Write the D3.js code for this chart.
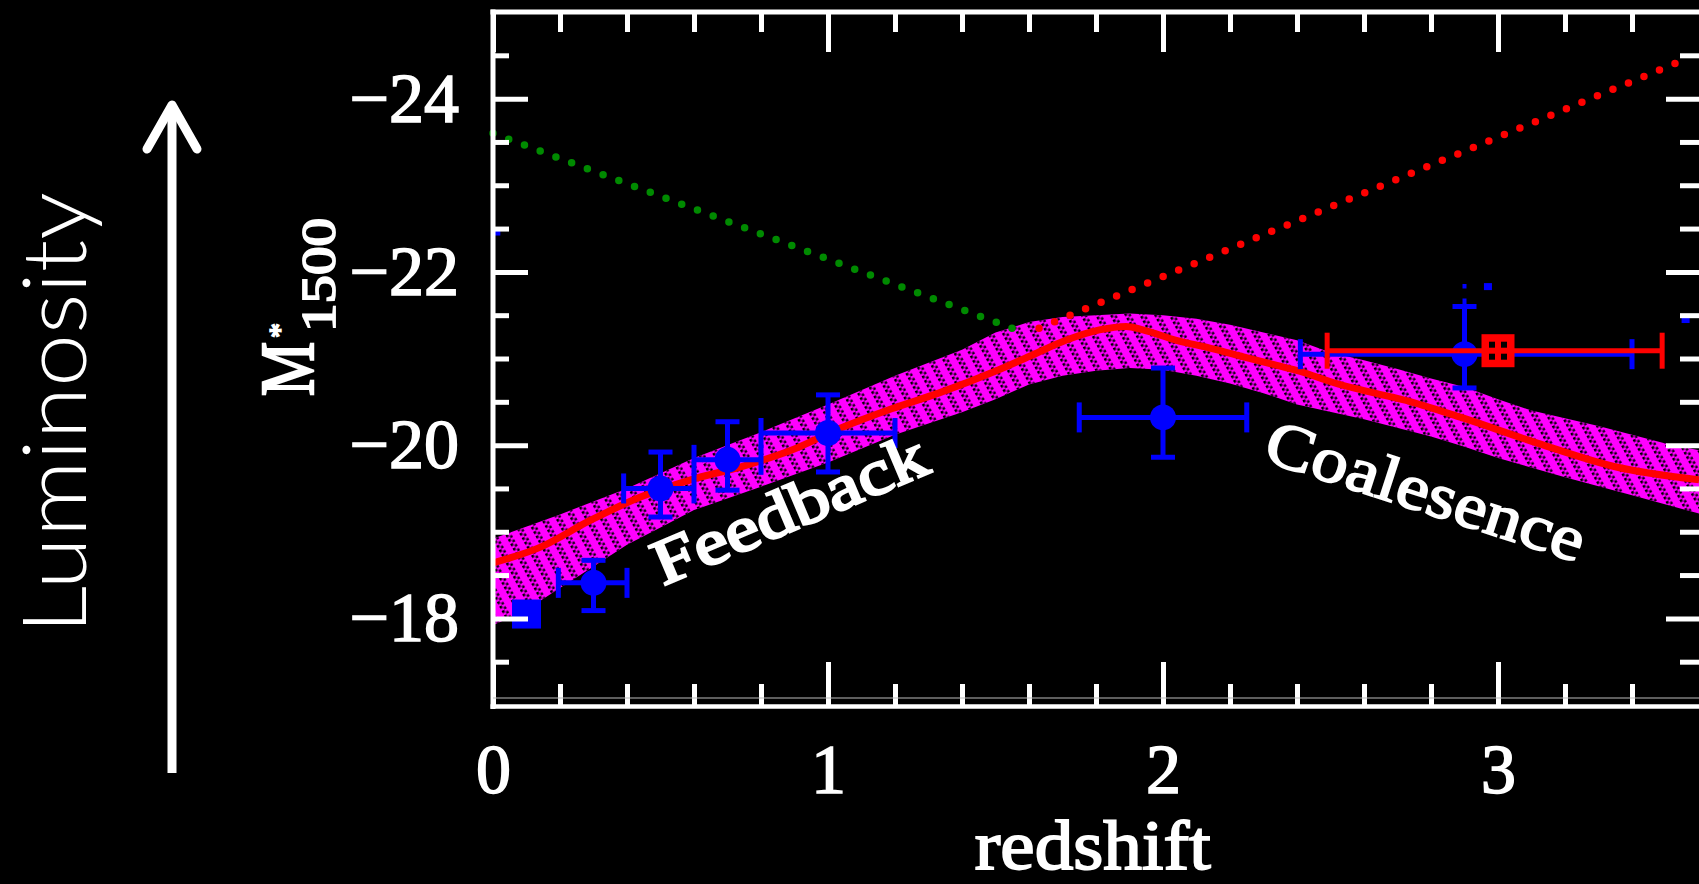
<!DOCTYPE html>
<html>
<head>
<meta charset="utf-8">
<script src="https://cdn.jsdelivr.net/npm/d3@7"></script>
<style>
  html, body { margin: 0; padding: 0; background: #000; overflow: hidden; }
  svg { display: block; }
</style>
</head>
<body>
<svg id="chart" width="1699" height="884"></svg>
<script>
// ---- Model: characteristic UV magnitude M*1500 versus redshift ----
const modelZ = [0, 0.14, 0.29, 0.44, 0.59, 0.74, 0.89, 1.04, 1.19, 1.33, 1.51, 1.61, 1.71, 1.81, 1.89,
                1.94, 2.04, 2.14, 2.24, 2.34, 2.41, 2.51, 2.61, 2.74, 2.89, 3.12, 3.35, 3.6];
const modelM = [-18.64, -18.82, -19.13, -19.40, -19.60, -19.75, -19.94, -20.20, -20.42, -20.60, -20.87,
                -21.04, -21.21, -21.33, -21.37, -21.33, -21.21, -21.12, -21.02, -20.92, -20.85, -20.72,
                -20.62, -20.50, -20.32, -20.02, -19.75, -19.60];

// Uncertainty envelope of the model (bright edge and faint edge)
const bandUpperZ = [0, 0.2, 0.4, 0.6, 0.8, 1.0, 1.2, 1.4, 1.5, 1.6, 1.7, 1.9, 2.0, 2.1, 2.2, 2.3, 2.4,
                    2.5, 2.6, 2.7, 2.8, 2.9, 3.0, 3.1, 3.3, 3.5, 3.6];
const bandUpperM = [-18.92, -19.20, -19.50, -19.85, -20.15, -20.47, -20.80, -21.10, -21.30, -21.42, -21.48,
                    -21.52, -21.50, -21.46, -21.39, -21.30, -21.21, -21.07, -20.98, -20.88, -20.77, -20.67,
                    -20.53, -20.40, -20.22, -20.02, -19.94];
const bandLowerZ = [0, 0.1, 0.2, 0.3, 0.4, 0.5, 0.6, 0.8, 1.0, 1.2, 1.4, 1.5, 1.6, 1.7, 1.8, 1.9, 2.0,
                    2.1, 2.2, 2.3, 2.4, 2.6, 2.8, 2.9, 3.0, 3.2, 3.4, 3.6];
const bandLowerM = [-17.92, -18.10, -18.35, -18.60, -18.85, -19.05, -19.25, -19.52, -19.80, -20.12, -20.38,
                    -20.53, -20.70, -20.80, -20.86, -20.89, -20.87, -20.80, -20.71, -20.60, -20.47, -20.30,
                    -20.10, -19.98, -19.85, -19.63, -19.42, -19.21];

// Extrapolated trends (dotted)
const feedbackTrendZ = [0, 1.59];
const feedbackTrendM = [-23.60, -21.29];
const coalescenceTrendZ = [1.63, 3.55];
const coalescenceTrendM = [-21.35, -24.44];

// ---- Observed luminosity-function fits (blue) ----
const obsZ      = [0.10, 0.30, 0.50, 0.70, 1.00, 2.00, 2.90];
const obsM      = [-18.05, -18.41, -19.50, -19.83, -20.14, -20.32, -21.05];
const obsZlo    = [null, 0.195, 0.39, 0.60, 0.80, 1.75, 2.41];
const obsZhi    = [null, 0.40, 0.60, 0.80, 1.20, 2.25, 3.40];
const obsMupper = [null, -18.67, -19.92, -20.27, -20.58, -20.89, -21.60];
const obsMlower = [null, -18.09, -19.17, -19.48, -19.69, -19.86, -20.66];
const obsShape  = ["square", "circle", "circle", "circle", "circle", "circle", "circle"];

// broken upper extension of the z~2.9 error bar and loose marks near the frame
const obsExtZ = [2.90, 2.90];
const obsExtM = [-21.60, -21.86];
const strayZ = [0.01, 2.97, 3.56];
const strayM = [-22.46, -21.83, -21.45];

// ---- Lyman-break sample (red) ----
const lbgZ   = [3.00];
const lbgM   = [-21.09];
const lbgZlo = [2.49];
const lbgZhi = [3.49];

// ---- Axes ----
const xMajorTicks = [0, 1, 2, 3];
const xMinorTicks = [0.2, 0.4, 0.6, 0.8, 1.2, 1.4, 1.6, 1.8, 2.2, 2.4, 2.6, 2.8, 3.2, 3.4];
const yMajorTicks = [-24, -22, -20, -18];
const yMinorTicks = [-24.5, -23.5, -23, -22.5, -21.5, -21, -20.5, -19.5, -19, -18.5, -17.5];

const xTitle = "redshift";
const sideTitle = "Luminosity";
const feedbackLabel = "Feedback";
const coalescenceLabel = "Coalesence";

// ---- Layout ----
const W = 1699, H = 884;
const pL = 493, pR = 1699, pT = 12, pB = 705;
const serif = "'Liberation Serif', 'Times New Roman', serif";

const x = d3.scaleLinear().domain([0, 3.6]).range([pL, pR]);
const y = d3.scaleLinear().domain([-25, -17]).range([pT, pB]);

const svg = d3.select("#chart");
svg.append("rect").attr("width", W).attr("height", H).attr("fill", "#000");

const defs = svg.append("defs");
defs.append("clipPath").attr("id", "plotClip")
  .append("rect").attr("x", pL + 2).attr("y", pT + 2)
  .attr("width", pR - pL).attr("height", pB - pT - 4);

// dotted diagonal hatching inside the envelope
const hatch = defs.append("pattern").attr("id", "hatch")
  .attr("patternUnits", "userSpaceOnUse")
  .attr("width", 13).attr("height", 5)
  .attr("patternTransform", "rotate(-28)");
hatch.append("rect").attr("x", 0).attr("y", 0).attr("width", 2.6).attr("height", 2.6).attr("fill", "#000");
hatch.append("rect").attr("x", 3.4).attr("y", 2.5).attr("width", 2.4).attr("height", 2.4).attr("fill", "#000");

const plot = svg.append("g").attr("clip-path", "url(#plotClip)");

// envelope
const upperPts = bandUpperZ.map((z, i) => [z, bandUpperM[i]]);
const lowerPts = bandLowerZ.map((z, i) => [z, bandLowerM[i]]).reverse();
const bandLine = d3.line().x(d => x(d[0])).y(d => y(d[1])).curve(d3.curveLinear);
const bandPath = bandLine(upperPts.concat(lowerPts)) + "Z";
plot.append("path").attr("d", bandPath).attr("fill", "#ff00ff");
plot.append("path").attr("d", bandPath).attr("fill", "url(#hatch)");

// model curve
const modelLine = d3.line().x((d, i) => x(modelZ[i])).y(d => y(d)).curve(d3.curveMonotoneX);
plot.append("path").attr("d", modelLine(modelM))
  .attr("fill", "none").attr("stroke", "#ff0000").attr("stroke-width", 7)
  .attr("stroke-linejoin", "round");

// dotted trends
const trendLine = d3.line().x(d => x(d[0])).y(d => y(d[1]));
svg.append("path")
  .attr("d", trendLine(feedbackTrendZ.map((z, i) => [z, feedbackTrendM[i]])))
  .attr("fill", "none").attr("stroke", "#008a00").attr("stroke-width", 7.5)
  .attr("stroke-linecap", "round").attr("stroke-dasharray", "0 16.8");
svg.append("path")
  .attr("d", trendLine(coalescenceTrendZ.map((z, i) => [z, coalescenceTrendM[i]])))
  .attr("fill", "none").attr("stroke", "#ff0000").attr("stroke-width", 7.5)
  .attr("stroke-linecap", "round").attr("stroke-dasharray", "0 16.8");

// ---- blue observed points ----
const obs = plot.append("g");
const blue = "#0000ff";
obsZ.forEach((z, i) => {
  const g = obs.append("g");
  const cx = x(z), cy = y(obsM[i]);
  if (obsZlo[i] !== null) {
    g.append("line").attr("x1", x(obsZlo[i])).attr("x2", x(obsZhi[i])).attr("y1", cy).attr("y2", cy)
      .attr("stroke", blue).attr("stroke-width", 5);
    [obsZlo[i], obsZhi[i]].forEach(zz => {
      g.append("line").attr("x1", x(zz)).attr("x2", x(zz)).attr("y1", cy - 15).attr("y2", cy + 15)
        .attr("stroke", blue).attr("stroke-width", 5);
    });
    g.append("line").attr("x1", cx).attr("x2", cx).attr("y1", y(obsMupper[i])).attr("y2", y(obsMlower[i]))
      .attr("stroke", blue).attr("stroke-width", 5);
    [obsMupper[i], obsMlower[i]].forEach(mm => {
      g.append("line").attr("x1", cx - 12).attr("x2", cx + 12).attr("y1", y(mm)).attr("y2", y(mm))
        .attr("stroke", blue).attr("stroke-width", 5);
    });
  }
  if (obsShape[i] === "square") {
    g.append("rect").attr("x", cx - 14.5).attr("y", cy - 14.5).attr("width", 29).attr("height", 29).attr("fill", blue);
  } else {
    g.append("circle").attr("cx", cx).attr("cy", cy).attr("r", 13).attr("fill", blue);
  }
});
obs.append("line")
  .attr("x1", x(obsExtZ[0])).attr("x2", x(obsExtZ[1]))
  .attr("y1", y(obsExtM[0])).attr("y2", y(obsExtM[1]))
  .attr("stroke", blue).attr("stroke-width", 4).attr("stroke-dasharray", "8 10");
svg.append("g").selectAll("rect").data(strayZ).join("rect")
  .attr("x", d => x(d) - 4).attr("y", (d, i) => y(strayM[i]) - 3.5)
  .attr("width", 8).attr("height", 7).attr("fill", blue);

// ---- red Lyman-break point ----
const red = "#ff0000";
lbgZ.forEach((z, i) => {
  const g = plot.append("g");
  const cx = x(z), cy = y(lbgM[i]);
  g.append("line").attr("x1", x(lbgZlo[i])).attr("x2", x(lbgZhi[i])).attr("y1", cy).attr("y2", cy)
    .attr("stroke", red).attr("stroke-width", 5);
  [lbgZlo[i], lbgZhi[i]].forEach(zz => {
    g.append("line").attr("x1", x(zz)).attr("x2", x(zz)).attr("y1", cy - 18).attr("y2", cy + 18)
      .attr("stroke", red).attr("stroke-width", 5);
  });
  g.append("rect").attr("x", cx - 16.5).attr("y", cy - 16.5).attr("width", 33).attr("height", 33).attr("fill", red);
  [[-9, -9], [3, -9], [-9, 3], [3, 3]].forEach(o => {
    g.append("rect").attr("x", cx + o[0]).attr("y", cy + o[1]).attr("width", 6).attr("height", 6).attr("fill", "#000");
  });
});

// ---- frame and ticks ----
const frame = svg.append("g");
const styleTicks = (sel) => {
  sel.select(".domain").remove();
  sel.selectAll(".tick line").attr("stroke", "#fff").attr("stroke-width", 5);
  sel.selectAll(".tick text").attr("fill", "#fff").attr("stroke", "#fff").attr("stroke-width", 1.6)
    .attr("font-family", serif).attr("font-size", 70);
};
const fmt = d3.format("d");

frame.append("g").attr("transform", `translate(${pL},0)`)
  .call(d3.axisLeft(y).tickValues(yMinorTicks).tickSize(-16).tickFormat("")).call(styleTicks);
frame.append("g").attr("transform", `translate(${pL},0)`)
  .call(d3.axisLeft(y).tickValues(yMajorTicks).tickSize(-35).tickPadding(34).tickFormat(fmt)).call(styleTicks);
frame.append("g").attr("transform", `translate(${pR},0)`)
  .call(d3.axisRight(y).tickValues(yMinorTicks).tickSize(-19).tickFormat("")).call(styleTicks);
frame.append("g").attr("transform", `translate(${pR},0)`)
  .call(d3.axisRight(y).tickValues(yMajorTicks).tickSize(-33).tickFormat("")).call(styleTicks);

frame.append("g").attr("transform", `translate(0,${pB})`)
  .call(d3.axisBottom(x).tickValues(xMinorTicks).tickSize(-21).tickFormat("")).call(styleTicks);
frame.append("g").attr("transform", `translate(0,${pB})`)
  .call(d3.axisBottom(x).tickValues(xMajorTicks).tickSize(-43).tickPadding(38).tickFormat(fmt)).call(styleTicks);
frame.append("g").attr("transform", `translate(0,${pT})`)
  .call(d3.axisTop(x).tickValues(xMinorTicks).tickSize(-20).tickFormat("")).call(styleTicks);
frame.append("g").attr("transform", `translate(0,${pT})`)
  .call(d3.axisTop(x).tickValues(xMajorTicks).tickSize(-40).tickFormat("")).call(styleTicks);

frame.append("line").attr("x1", pL - 2.5).attr("x2", pR).attr("y1", pT).attr("y2", pT)
  .attr("stroke", "#fff").attr("stroke-width", 5);
frame.append("line").attr("x1", pL).attr("x2", pL).attr("y1", pT - 2.5).attr("y2", pB + 4)
  .attr("stroke", "#fff").attr("stroke-width", 5);
frame.append("line").attr("x1", pL - 2.5).attr("x2", pR).attr("y1", pB + 1.5).attr("y2", pB + 1.5)
  .attr("stroke", "#fff").attr("stroke-width", 4.5);
frame.append("line").attr("x1", pL).attr("x2", pR).attr("y1", pB - 7).attr("y2", pB - 7)
  .attr("stroke", "#bbb").attr("stroke-width", 1.2);

// ---- titles ----
svg.append("text").attr("x", x(1.79)).attr("y", 869)
  .attr("text-anchor", "middle").attr("font-family", serif).attr("font-size", 70)
  .attr("fill", "#fff").attr("stroke", "#fff").attr("stroke-width", 1.8)
  .attr("textLength", 236).attr("lengthAdjust", "spacingAndGlyphs")
  .text(xTitle);

// y-axis title: M*_1500 rotated
const yt = svg.append("g").attr("transform", "translate(313,396) rotate(-90)")
  .attr("fill", "#fff").attr("stroke", "#fff").attr("font-family", serif);
yt.append("text").attr("x", 0).attr("y", 0).attr("font-size", 77).attr("stroke-width", 2.4)
  .attr("textLength", 54).attr("lengthAdjust", "spacingAndGlyphs").text("M");
yt.append("text").attr("x", 58).attr("y", -24).attr("font-size", 30).attr("stroke-width", 1.5).text("*");
yt.append("text").attr("x", 64).attr("y", 22).attr("font-size", 48).attr("stroke-width", 1.8)
  .attr("textLength", 114).attr("lengthAdjust", "spacingAndGlyphs").text("1500");

// curve annotations
svg.append("text").attr("transform", "translate(789,508) rotate(-23)")
  .attr("text-anchor", "middle").attr("dy", "0.35em")
  .attr("font-family", serif).attr("font-size", 64)
  .attr("fill", "#fff").attr("stroke", "#fff").attr("stroke-width", 2.6)
  .attr("textLength", 292).attr("lengthAdjust", "spacingAndGlyphs")
  .text(feedbackLabel);
svg.append("text").attr("transform", "translate(1426,490) rotate(18)")
  .attr("text-anchor", "middle").attr("dy", "0.35em")
  .attr("font-family", serif).attr("font-size", 64)
  .attr("fill", "#fff").attr("stroke", "#fff").attr("stroke-width", 1.8)
  .attr("textLength", 332).attr("lengthAdjust", "spacingAndGlyphs")
  .text(coalescenceLabel);

// ---- luminosity arrow and side title ----
svg.append("text").attr("transform", "translate(86,634) rotate(-90)")
  .attr("font-family", "Lato, 'Open Sans', sans-serif").attr("font-weight", 300)
  .attr("font-size", 88).attr("fill", "#fff")
  .attr("textLength", 442).attr("lengthAdjust", "spacingAndGlyphs")
  .text(sideTitle);
svg.append("line").attr("x1", 172).attr("x2", 172).attr("y1", 773).attr("y2", 108)
  .attr("stroke", "#fff").attr("stroke-width", 9);
svg.append("polyline").attr("points", "147,149 172,105 197,149")
  .attr("fill", "none").attr("stroke", "#fff").attr("stroke-width", 9)
  .attr("stroke-linecap", "round").attr("stroke-linejoin", "round");
</script>
</body>
</html>
